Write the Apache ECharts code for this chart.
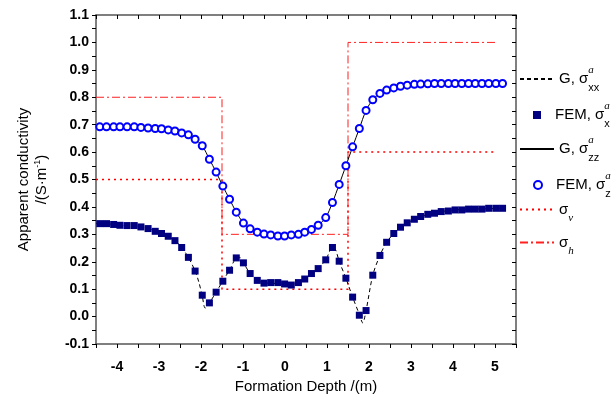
<!DOCTYPE html>
<html>
<head>
<meta charset="utf-8">
<script src="https://cdn.jsdelivr.net/npm/echarts@6/dist/echarts.min.js"></script>
<style>
  html, body { margin: 0; padding: 0; background: #fff; }
  #chart { width: 612px; height: 399px; }
</style>
</head>
<body>
<div id="chart"></div>
<script>
// FEM sample depths (m), shared by both FEM series
const femDepth = [-4.41, -4.25, -4.08, -3.93, -3.76, -3.59, -3.43, -3.26, -3.09, -2.94,
  -2.78, -2.62, -2.46, -2.30, -2.14, -1.97, -1.80, -1.64, -1.48, -1.32,
  -1.16, -0.99, -0.83, -0.66, -0.50, -0.34, -0.17, -0.01, 0.15, 0.32,
  0.47, 0.63, 0.79, 0.97, 1.13, 1.29, 1.45, 1.61, 1.77, 1.93,
  2.09, 2.26, 2.42, 2.59, 2.75, 2.91, 3.08, 3.23, 3.40, 3.56,
  3.72, 3.89, 4.05, 4.21, 4.37, 4.53, 4.69, 4.85, 5.02, 5.18];

const femXX = [0.339, 0.339, 0.336, 0.333, 0.332, 0.332, 0.327, 0.321, 0.311, 0.303,
  0.293, 0.277, 0.252, 0.216, 0.166, 0.078, 0.050, 0.089, 0.129, 0.169,
  0.214, 0.196, 0.157, 0.132, 0.122, 0.124, 0.124, 0.119, 0.115, 0.124,
  0.137, 0.157, 0.175, 0.207, 0.252, 0.202, 0.140, 0.071, 0.005, 0.022,
  0.151, 0.223, 0.271, 0.303, 0.326, 0.342, 0.355, 0.365, 0.373, 0.377,
  0.383, 0.385, 0.389, 0.389, 0.392, 0.392, 0.392, 0.395, 0.395, 0.395];

const femZZ = [0.692, 0.692, 0.692, 0.692, 0.692, 0.692, 0.690, 0.688, 0.686, 0.685,
  0.681, 0.677, 0.670, 0.663, 0.647, 0.623, 0.574, 0.527, 0.476, 0.428,
  0.381, 0.341, 0.320, 0.308, 0.301, 0.298, 0.294, 0.294, 0.298, 0.300,
  0.308, 0.318, 0.333, 0.361, 0.416, 0.482, 0.550, 0.619, 0.686, 0.752,
  0.791, 0.814, 0.826, 0.834, 0.840, 0.844, 0.847, 0.848, 0.849, 0.850,
  0.850, 0.850, 0.850, 0.850, 0.850, 0.850, 0.850, 0.850, 0.850, 0.850];

// analytic (G) curves
const gxxDepth = [-4.5, -4.25, -3.93, -3.59, -3.26, -2.94, -2.62, -2.46, -2.30, -2.14,
  -2.05, -1.97, -1.90, -1.80, -1.64, -1.48, -1.32, -1.16, -1.08, -0.99,
  -0.83, -0.66, -0.50, -0.34, -0.17, -0.01, 0.15, 0.32, 0.47, 0.63,
  0.79, 0.97, 1.13, 1.20, 1.29, 1.45, 1.61, 1.77, 1.85, 1.93,
  2.09, 2.26, 2.42, 2.59, 2.75, 3.08, 3.40, 3.72, 4.05, 4.37, 4.69, 5.18];
const gxxValues = [0.340, 0.339, 0.333, 0.331, 0.321, 0.303, 0.277, 0.252, 0.216, 0.166,
  0.125, 0.075, 0.031, 0.050, 0.089, 0.130, 0.170, 0.214, 0.216, 0.196,
  0.157, 0.132, 0.123, 0.122, 0.120, 0.118, 0.117, 0.124, 0.137, 0.157,
  0.176, 0.207, 0.252, 0.245, 0.202, 0.140, 0.071, 0.008, -0.023, 0.022,
  0.151, 0.223, 0.271, 0.303, 0.326, 0.355, 0.373, 0.383, 0.389, 0.392, 0.393, 0.395];

const gzzDepth = [-4.5].concat(femDepth);
const gzzValues = [0.692].concat(femZZ);

// layer model
const modelDepth = [-4.5, -1.5, -1.5, 1.5, 1.5, 5.0];
const sigmaV = [0.5, 0.5, 0.1, 0.1, 0.6, 0.6];
const sigmaH = [0.8, 0.8, 0.3, 0.3, 1.0, 1.0];

const pairs = (xs, ys) => xs.map((x, i) => [x, ys[i]]);

const FONT = '"Liberation Sans", Arial, sans-serif';

const names = ['G, σxx', 'FEM, σx', 'G, σzz', 'FEM, σz', 'σv', 'σh'];
const legendText = {
  'G, σxx': '{m|G, σ}{sup|a}{sub|xx}',
  'FEM, σx': '{m|FEM, σ}{sup|a}{sub|x}',
  'G, σzz': '{m|G, σ}{sup|a}{sub|zz}',
  'FEM, σz': '{m|FEM, σ}{sup|a}{sub|z}',
  'σv': '{m|σ}{subi|v}',
  'σh': '{m|σ}{subi|h}'
};
const rich = {
  m: { fontSize: 15, lineHeight: 28, color: '#000', fontFamily: FONT },
  sup: { fontSize: 11, fontStyle: 'italic', verticalAlign: 'top', lineHeight: 12, width: 0.01, color: '#000', fontFamily: 'serif' },
  sub: { fontSize: 11, verticalAlign: 'bottom', lineHeight: 14, color: '#000', fontFamily: FONT },
  subi: { fontSize: 11, fontStyle: 'italic', verticalAlign: 'bottom', lineHeight: 14, color: '#000', fontFamily: 'serif' }
};

const legendCenters = [79, 115, 149, 185, 216, 249];
const legends = names.map((n, i) => {
  const isSym = (i === 1 || i === 3);
  const lg = {
    data: [n],
    left: isSym ? 533 : 519,
    top: legendCenters[i] - 14,
    padding: 0,
    itemWidth: isSym ? 8 : 34,
    itemHeight: isSym ? 8 : 14,
    selectedMode: false,
    formatter: name => legendText[name],
    textStyle: { rich: rich, padding: isSym ? [0, 0, 0, 9] : 0 }
  };
  // line entries: only the line, no marker
  if (!isSym) lg.itemStyle = { opacity: 0 };
  return lg;
});

const axisLine = { show: true, onZero: false, lineStyle: { color: '#555', width: 1.5 } };
const tickStyle = { color: '#000', width: 1 };

const chart = echarts.init(document.getElementById('chart'));
chart.setOption({
  animation: false,
  backgroundColor: '#fff',
  textStyle: { fontFamily: FONT },
  grid: { left: 96, right: 96, top: 15, bottom: 55 },
  legend: legends,
  xAxis: [{
    type: 'value', position: 'bottom', min: -4.5, max: 5.5, interval: 0.5,
    axisLine: axisLine,
    axisTick: { show: true, inside: false, length: 4, lineStyle: tickStyle },
    splitLine: { show: false },
    axisLabel: {
      margin: 16, color: '#000', fontWeight: 'bold', fontSize: 14, fontFamily: FONT,
      formatter: v => Math.abs(v - Math.round(v)) < 1e-6 ? String(Math.round(v)) : ''
    },
    name: 'Formation Depth /(m)', nameLocation: 'middle', nameGap: 33,
    nameTextStyle: { fontSize: 15, color: '#000', fontFamily: FONT }
  }, {
    type: 'value', position: 'top', min: -4.5, max: 5.5, interval: 0.5,
    axisLine: axisLine,
    axisTick: { show: true, inside: true, length: 4, lineStyle: tickStyle },
    axisLabel: { show: false },
    splitLine: { show: false }
  }],
  yAxis: [{
    type: 'value', position: 'left', min: -0.1, max: 1.1, interval: 0.05,
    axisLine: axisLine,
    axisTick: { show: true, inside: false, length: 4, lineStyle: tickStyle },
    splitLine: { show: false },
    axisLabel: {
      margin: 7, color: '#000', fontWeight: 'bold', fontSize: 14, fontFamily: FONT,
      showMinLabel: true, showMaxLabel: true,
      formatter: v => Math.abs(v * 10 - Math.round(v * 10)) < 1e-6 ? (Math.round(v * 10) / 10).toFixed(1) : ''
    },
    name: 'Apparent conductivity\n{n|/(S·m}{s|-1}{n|)}',
    nameLocation: 'middle', nameRotate: 90, nameGap: 45,
    nameTextStyle: {
      fontSize: 15, color: '#000', fontFamily: FONT, lineHeight: 18,
      rich: {
        n: { fontSize: 15, color: '#000', fontFamily: FONT, lineHeight: 18 },
        s: { fontSize: 9, color: '#000', fontFamily: FONT, verticalAlign: 'top', lineHeight: 10 }
      }
    }
  }, {
    type: 'value', position: 'right', min: -0.1, max: 1.1, interval: 0.05,
    axisLine: axisLine,
    axisTick: { show: true, inside: true, length: 4, lineStyle: tickStyle },
    axisLabel: { show: false },
    splitLine: { show: false }
  }],
  series: [{
    name: 'G, σxx', type: 'line', data: pairs(gxxDepth, gxxValues),
    symbol: 'none', smooth: 0.3, z: 3,
    itemStyle: { color: '#000' },
    lineStyle: { color: '#000', width: 1, type: [4, 3] }
  }, {
    name: 'FEM, σx', type: 'scatter', data: pairs(femDepth, femXX),
    symbol: 'rect', symbolSize: 7, z: 4,
    itemStyle: { color: '#000080', opacity: 1 }
  }, {
    name: 'G, σzz', type: 'line', data: pairs(gzzDepth, gzzValues),
    symbol: 'none', smooth: 0.3, z: 3,
    itemStyle: { color: '#000' },
    lineStyle: { color: '#000', width: 1, type: 'solid' }
  }, {
    name: 'FEM, σz', type: 'scatter', data: pairs(femDepth, femZZ),
    symbol: 'emptyCircle', symbolSize: 7, z: 4,
    itemStyle: { color: '#0000ff', borderColor: '#0000ff', borderWidth: 1.2, opacity: 1 }
  }, {
    name: 'σv', type: 'line', data: pairs(modelDepth, sigmaV),
    symbol: 'none', z: 2,
    itemStyle: { color: '#ff0000' },
    lineStyle: { color: '#ff0000', width: 1.5, type: [2, 4] }
  }, {
    name: 'σh', type: 'line', data: pairs(modelDepth, sigmaH),
    symbol: 'none', z: 2,
    itemStyle: { color: '#ff2020' },
    lineStyle: { color: '#ff2020', width: 1, type: [8, 3, 2, 3] }
  }]
});
</script>
</body>
</html>
